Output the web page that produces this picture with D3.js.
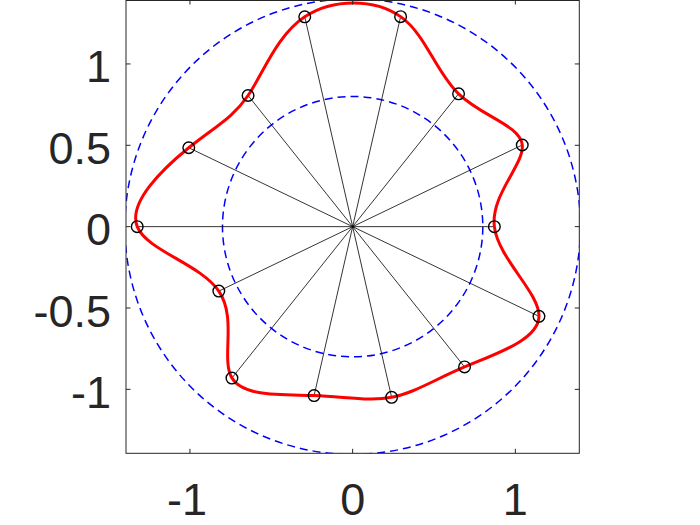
<!DOCTYPE html>
<html><head><meta charset="utf-8">
<script src="https://cdn.jsdelivr.net/npm/d3@7"></script>
<style>body{margin:0;background:#fff;} svg{display:block;}</style>
</head><body>
<svg id="chart" width="700" height="525"></svg>
<script>
// Data
const anglesDeg = [0, 25.71, 51.43, 77.14, 102.86, 128.57, 154.29, 180, 205.71, 231.43, 257.14, 282.86, 308.57, 334.29];
const radii = [0.871, 1.157, 1.044, 1.324, 1.323, 1.031, 1.118, 1.324, 0.913, 1.190, 1.065, 1.076, 1.103, 1.271];
const refCircles = [0.8, 1.4];
const xTicks = [-1, 0, 1];
const yTicks = [-1, -0.5, 0, 0.5, 1];
const lim = [-1.393, 1.393];

// Closed (periodic) natural cubic spline curve for d3.line
function PeriodicSpline(context) { this._context = context; }
PeriodicSpline.prototype = {
  areaStart() { this._line = 0; },
  areaEnd() { this._line = NaN; },
  lineStart() { this._x = []; this._y = []; },
  point(x, y) { this._x.push(+x); this._y.push(+y); },
  lineEnd() {
    const X = this._x, Y = this._y, n = X.length, c = this._context;
    if (!n) return;
    const tan = (P) => {
      const m = P.map((_, i) => (P[(i + 1) % n] - P[(i - 1 + n) % n]) / 2);
      for (let k = 0; k < 200; k++) {
        for (let i = 0; i < n; i++) {
          const rhs = 3 * (P[(i + 1) % n] - P[(i - 1 + n) % n]);
          m[i] = (rhs - m[(i - 1 + n) % n] - m[(i + 1) % n]) / 4;
        }
      }
      return m;
    };
    const mx = tan(X), my = tan(Y);
    c.moveTo(X[0], Y[0]);
    for (let i = 0; i < n; i++) {
      const j = (i + 1) % n;
      c.bezierCurveTo(X[i] + mx[i] / 3, Y[i] + my[i] / 3, X[j] - mx[j] / 3, Y[j] - my[j] / 3, X[j], Y[j]);
    }
    c.closePath();
  }
};
const curvePeriodic = (context) => new PeriodicSpline(context);

const svg = d3.select("#chart");
const L = 126, R = 579.3, T = 0, B = 453.3;
const x = d3.scaleLinear().domain(lim).range([L, R]);
const y = d3.scaleLinear().domain(lim).range([B, T]);
const unit = x(1) - x(0);

svg.append("defs").append("clipPath").attr("id", "clip")
  .append("rect").attr("x", L).attr("y", T).attr("width", R - L).attr("height", B - T);

const pts = anglesDeg.map((a, i) => {
  const t = a * Math.PI / 180;
  return { cx: radii[i] * Math.cos(t), cy: radii[i] * Math.sin(t) };
});

const g = svg.append("g").attr("clip-path", "url(#clip)");

// reference circles
g.selectAll("circle.ref").data(refCircles).join("circle")
  .attr("class", "ref")
  .attr("cx", x(0)).attr("cy", y(0)).attr("r", d => d * unit)
  .attr("fill", "none").attr("stroke", "#0000ff").attr("stroke-width", 1.5)
  .attr("stroke-dasharray", "8,5");

// spokes
g.selectAll("line.spoke").data(pts).join("line")
  .attr("class", "spoke")
  .attr("x1", x(0)).attr("y1", y(0))
  .attr("x2", d => x(d.cx)).attr("y2", d => y(d.cy))
  .attr("stroke", "#000").attr("stroke-width", 0.8);

// smooth closed curve
const line = d3.line().x(d => x(d.cx)).y(d => y(d.cy)).curve(curvePeriodic);
g.append("path").datum(pts).attr("d", line)
  .attr("fill", "none").attr("stroke", "#ff0000").attr("stroke-width", 3);

// markers
g.selectAll("circle.pt").data(pts).join("circle")
  .attr("class", "pt")
  .attr("cx", d => x(d.cx)).attr("cy", d => y(d.cy)).attr("r", 5.8)
  .attr("fill", "none").attr("stroke", "#000").attr("stroke-width", 1.4);

// axes box
const axCol = "#262626";
svg.append("rect").attr("x", L).attr("y", T + 0.5).attr("width", R - L).attr("height", B - T - 0.5)
  .attr("fill", "none").attr("stroke", axCol).attr("stroke-width", 1);

const tl = 4.5;
const ax = svg.append("g");
xTicks.forEach(v => {
  ax.append("line").attr("x1", x(v)).attr("x2", x(v)).attr("y1", B).attr("y2", B - tl).attr("stroke", axCol);
  ax.append("line").attr("x1", x(v)).attr("x2", x(v)).attr("y1", T).attr("y2", T + tl).attr("stroke", axCol);
  ax.append("text").attr("x", x(v) - (v < 0 ? 3 : 0)).attr("y", B + 62).attr("text-anchor", "middle")
    .attr("font-family", "Liberation Sans, Arial, sans-serif").attr("font-size", 45).attr("fill", axCol)
    .text(String(v));
});
yTicks.forEach(v => {
  ax.append("line").attr("x1", L).attr("x2", L + tl).attr("y1", y(v)).attr("y2", y(v)).attr("stroke", axCol);
  ax.append("line").attr("x1", R).attr("x2", R - tl).attr("y1", y(v)).attr("y2", y(v)).attr("stroke", axCol);
  ax.append("text").attr("x", L - 15).attr("y", y(v) + 18.5).attr("text-anchor", "end")
    .attr("font-family", "Liberation Sans, Arial, sans-serif").attr("font-size", 45).attr("fill", axCol)
    .text(String(v));
});
</script>
</body></html>
